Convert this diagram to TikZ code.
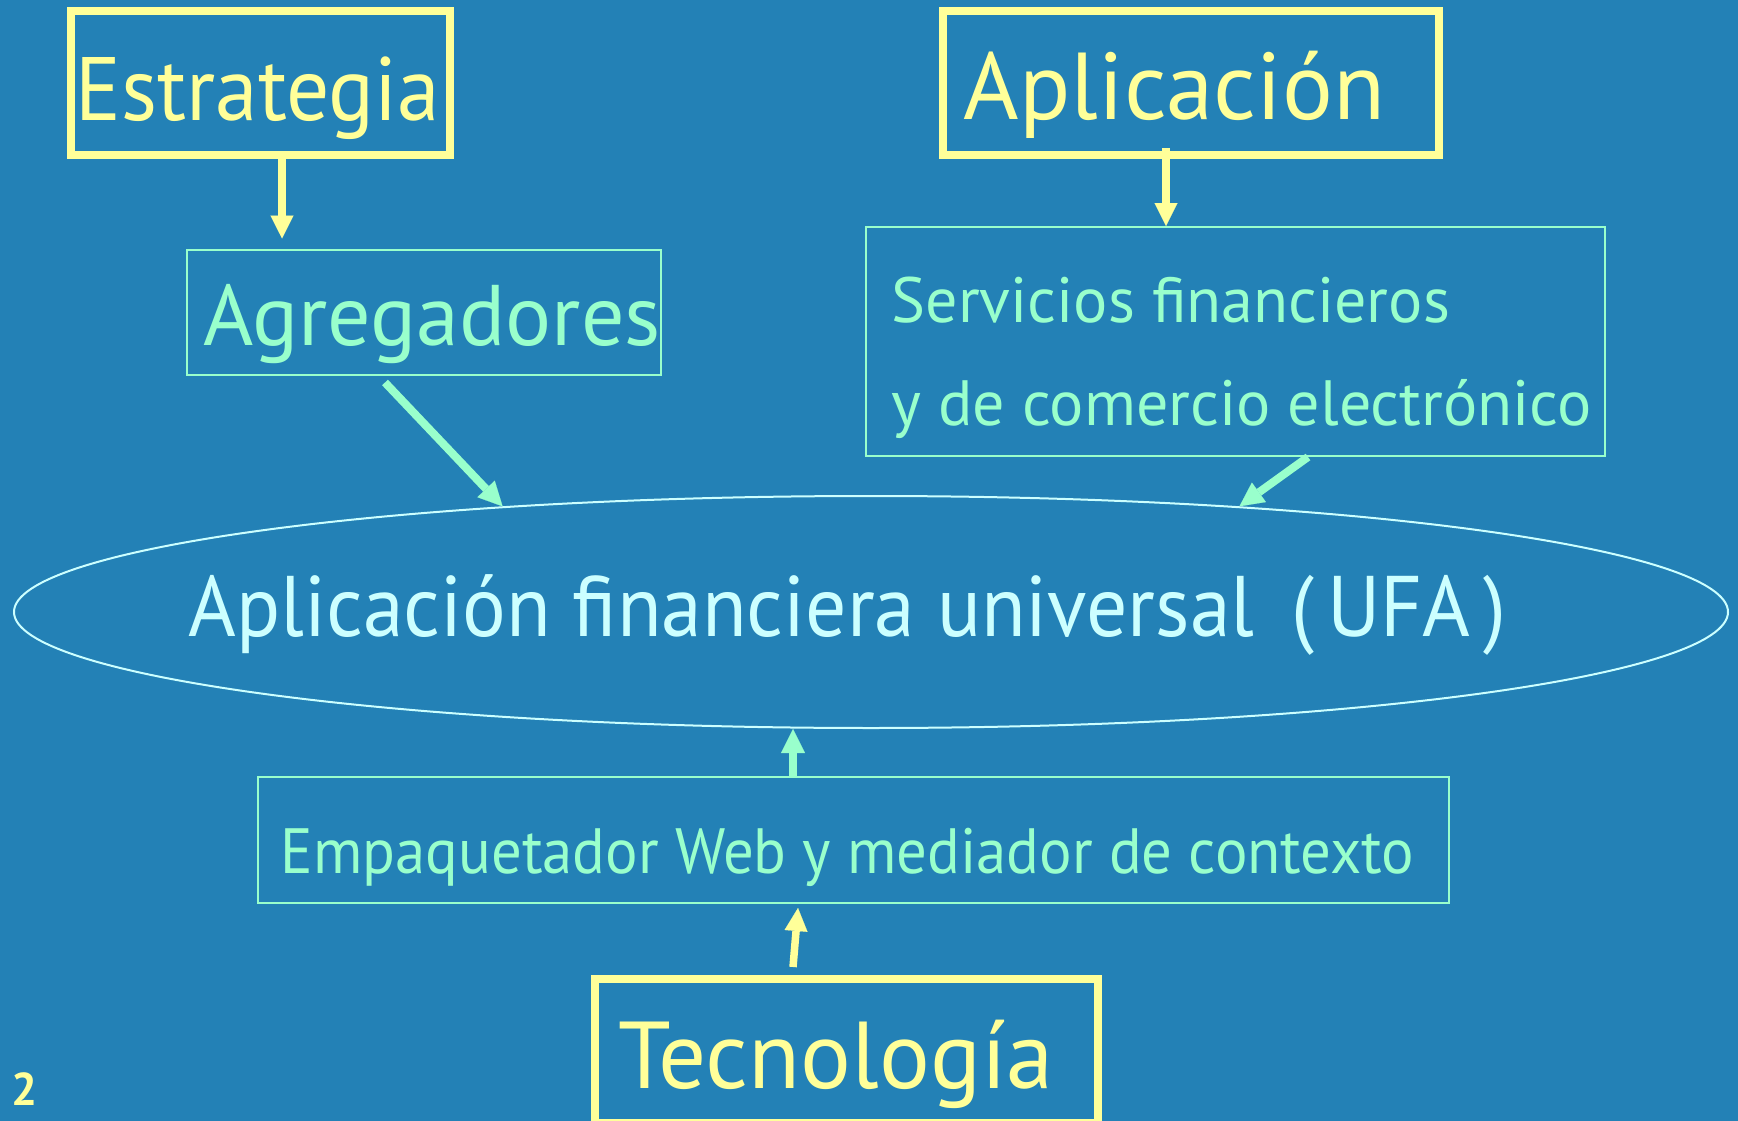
\documentclass[tikz,border=0pt]{standalone}
\usepackage{fontspec}
\setmainfont{PT Sans}
\newfontfamily\angosta{PT Sans}[FakeStretch=0.95]
\usetikzlibrary{arrows.meta,shapes.geometric}
\definecolor{fondo}{RGB}{35,129,182}
\definecolor{amarillo}{RGB}{255,255,153}
\definecolor{menta}{RGB}{153,255,204}
\definecolor{celeste}{RGB}{204,255,255}

\begin{document}
\begin{tikzpicture}[x=1pt,y=-1pt,
			cajaam/.style={draw=amarillo,line width=8pt,inner sep=0pt,minimum height=144pt},
			cajave/.style={draw=menta,line width=2pt,inner sep=0pt},
			titulo/.style={anchor=base,text=amarillo,font=\fontsize{95}{100}\selectfont},
			textove/.style={text=menta,font=\fontsize{64}{70}\selectfont},
			flam/.style={draw=amarillo,line width=7.5pt,-{Triangle[width=23pt,length=23pt,line width=.1pt]}},
			flve/.style={draw=menta,line width=8pt,-{Triangle[width=24pt,length=24pt,line width=.1pt]}}]
			\fill[fondo] (0,0) rectangle (1738,1121);
			\useasboundingbox (0,0) rectangle (1738,1121);
			
			\node[cajaam,minimum width=379pt] (estr) at (260.5,83) {};
			\node[titulo,font=\fontsize{90}{95}\angosta] (estrt) at (258,121) {Estrategia};
			\node[cajaam,minimum width=496pt] (apl) at (1191,83) {};
			\node[titulo] (aplt) at (1174.5,120) {Aplicación};
			\node[cajaam,minimum width=503pt] (tec) at (846.5,1051) {};
			\node[titulo] (tect) at (836,1088) {Tecnología};
			
			\node[cajave,minimum width=474pt,minimum height=125pt] (agr) at (424,312) {};
			\node[anchor=base,text=menta,font=\fontsize{86}{90}\selectfont] (agrt) at (432,345) {Agregadores};
			\node[cajave,minimum width=739pt,minimum height=229pt] (serv) at (1235.5,341.5) {};
			\node[textove,anchor=base west] (servt1) at (888,322) {Servicios financieros};
			\node[textove,anchor=base west] (servt2) at (888,425) {y de comercio electrónico};
			\node[cajave,minimum width=1191pt,minimum height=126pt] (emp) at (853.5,840) {};
			\node[textove,font=\fontsize{64}{70}\angosta,anchor=base] (empt) at (847.5,873) {Empaquetador Web y mediador de contexto};
			
			\node[ellipse,draw=celeste,line width=2pt,inner sep=0pt,minimum width=1714pt,minimum height=232pt] (ufa) at (871,612) {};
			\node[anchor=base,text=celeste,font=\fontsize{86}{90}\angosta] (ufat) at (847.5,636) {Aplicación financiera universal\hspace{.43em}(\kern.15em UFA\kern.15em)};
			
			\node[anchor=base,text=amarillo,font=\fontsize{46}{48}\selectfont\bfseries] (num) at (24.5,1105) {2};
			
			\draw[flam,shorten >=10pt] ([xshift=21.5pt]estr.south) -- ([xshift=21.5pt]estr.south |- agr.north);
			\draw[flam] ([xshift=-25pt,yshift=11pt]apl.south) -- ([xshift=-25pt]apl.south |- serv.north);
			\draw[flve] ([xshift=-39pt,yshift=-7pt]agr.south) -- (ufa.164.4);
			\draw[flve] ([xshift=72.5pt]serv.south) -- (ufa.16);
			\draw[flve] ([xshift=-60.5pt]emp.north) -- ([xshift=-60.5pt]emp.north |- ufa.south);
			\draw[flam] ([xshift=-53.5pt,yshift=8pt]tec.north) -- ([xshift=-55.5pt,yshift=-4pt]emp.south);
\end{tikzpicture}
\end{document}
